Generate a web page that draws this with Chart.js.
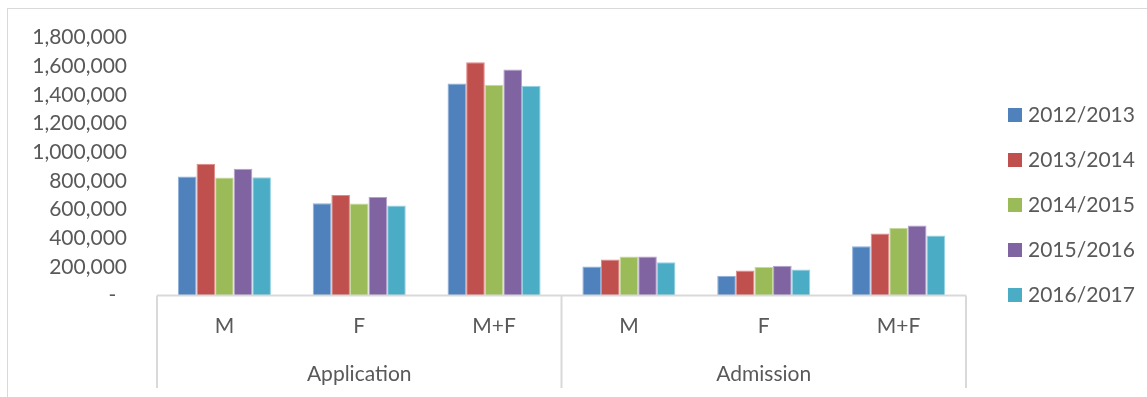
<!DOCTYPE html>
<html>
<head>
<meta charset="utf-8">
<script src="https://cdn.jsdelivr.net/npm/chart.js@4"></script>
<style>
  body { margin: 0; background: #fff; }
  #wrap { width: 1147px; height: 397px; }
</style>
</head>
<body>
<div id="wrap"><canvas id="barChart" width="1147" height="397"></canvas></div>
<script>
// categories (two levels: group -> sub category)
const groups = ["Application", "Admission"];
const labels = ["M", "F", "M+F", "M", "F", "M+F"];
const years = ["2012/2013", "2013/2014", "2014/2015", "2015/2016", "2016/2017"];

// values per academic year, order: Application M, F, M+F, Admission M, F, M+F
const y2012 = [830000, 644000, 1479000, 202000, 137000, 344000];
const y2013 = [919000, 702000, 1628000, 251000, 174000, 433000];
const y2014 = [823000, 642000, 1470000, 272000, 198000, 472000];
const y2015 = [884000, 688000, 1577000, 272000, 207000, 488000];
const y2016 = [825000, 628000, 1463000, 232000, 181000, 419000];

const colors = ["#4F81BD", "#C0504D", "#9BBB59", "#8064A2", "#4BACC6"];
const edgeColors = ["#8FB0DA", "#E08A88", "#C5DA9E", "#B3A0CC", "#93D2E2"];

const FONT = "Lato, 'Liberation Sans', sans-serif";
const TEXT = "#595959";
const LINE = "#d9d9d9";

const allValues = [y2012, y2013, y2014, y2015, y2016];

// draws frame, two level x axis and the legend on the right
const excelBits = {
  id: "excelBits",
  beforeDraw(chart) {
    const ctx = chart.ctx;
    ctx.save();
    ctx.strokeStyle = LINE;
    ctx.lineWidth = 1;
    ctx.strokeRect(7.5, 8.5, 1200, 500);
    ctx.restore();
  },
  afterDraw(chart) {
    const ctx = chart.ctx;
    const area = chart.chartArea;
    const xs = chart.scales.x;
    ctx.save();

    // baseline + group dividers
    ctx.strokeStyle = LINE;
    ctx.lineWidth = 2;
    ctx.beginPath();
    ctx.moveTo(area.left, area.bottom);
    ctx.lineTo(area.right, area.bottom);
    const mid = (xs.getPixelForValue(2) + xs.getPixelForValue(3)) / 2;
    [area.left, mid, area.right].forEach((x) => {
      ctx.moveTo(x, area.bottom);
      ctx.lineTo(x, 388);
    });
    ctx.stroke();

    // sub category labels
    ctx.fillStyle = TEXT;
    ctx.font = "21px " + FONT;
    ctx.textAlign = "center";
    ctx.textBaseline = "middle";
    labels.forEach((l, i) => {
      ctx.fillText(l, xs.getPixelForValue(i), 326);
    });

    // group labels
    ctx.fillText(groups[0], (area.left + mid) / 2, 374);
    ctx.fillText(groups[1], (mid + area.right) / 2, 374);

    // legend
    ctx.textAlign = "left";
    chart.data.datasets.forEach((ds, i) => {
      const cy = 115 + i * 45;
      ctx.fillStyle = ds.backgroundColor;
      ctx.fillRect(1008, cy - 7, 14, 14);
      ctx.fillStyle = TEXT;
      ctx.fillText(ds.label, 1028, cy);
    });
    ctx.restore();
  },
};

const ctx = document.getElementById("barChart");

new Chart(ctx, {
  type: "bar",
  data: {
    labels: labels,
    datasets: years.map((y, i) => ({
      label: y,
      data: allValues[i],
      backgroundColor: colors[i],
      borderColor: edgeColors[i],
      borderWidth: 1,
      barPercentage: 1,
      categoryPercentage: 0.69,
    })),
  },
  options: {
    responsive: false,
    animation: false,
    layout: {
      padding: { left: 0, top: 37.5, right: 181, bottom: 101.5 },
    },
    plugins: {
      legend: { display: false },
      tooltip: { enabled: false },
    },
    scales: {
      x: { display: false },
      y: {
        min: 0,
        max: 1800000,
        afterFit: (scale) => {
          // fixed width, and no extra room for the tick labels (padding handles it)
          scale.width = 157;
          scale.paddingTop = 0;
          scale.paddingBottom = 0;
        },
        border: { display: false },
        grid: { display: false, drawTicks: false },
        ticks: {
          stepSize: 200000,
          padding: 30,
          color: TEXT,
          font: { family: FONT, size: 21 },
          callback: (v) => (v === 0 ? "-  " : v.toLocaleString("en-US")),
        },
      },
    },
  },
  plugins: [excelBits],
});
</script>
</body>
</html>
